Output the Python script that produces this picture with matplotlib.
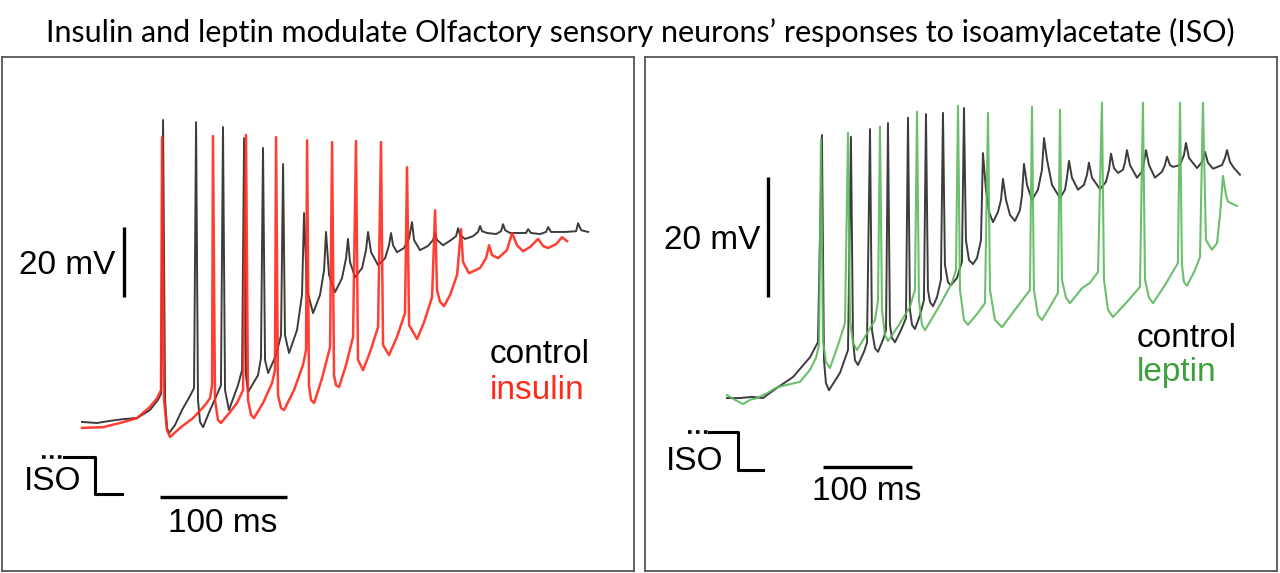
import matplotlib.pyplot as plt

# ---- left panel: control vs insulin (time in ms, membrane potential in mV)
ins_ctrl_t = [0, 11.8, 22.0, 32.3, 43.3, 53.5, 59.8, 62.2, 63.8, 65.4, 66.9, 68.5, 73.2, 78.7,
              85.0, 88.2, 89.8, 91.3, 92.9, 95.3, 100.8, 107.1, 109.4, 111.0, 112.6, 115.7, 122.8,
              126.0, 127.6, 129.1, 130.7, 138.6, 140.9, 142.5, 144.1, 146.5, 152.8, 156.7, 158.3,
              159.8, 163.0, 169.3, 173.2, 174.8, 177.2, 181.9, 187.4, 190.6, 192.1, 194.5, 199.2,
              204.7, 207.9, 209.4, 211.0, 215.0, 220.5, 223.6, 225.2, 227.6, 233.1, 238.6, 241.7,
              243.3, 244.9, 248.0, 253.5, 257.5, 259.8, 261.4, 266.1, 272.4, 276.4, 278.0, 279.5,
              284.3, 290.6, 294.5, 296.1, 297.6, 301.6, 307.9, 311.8, 313.4, 315.0, 318.9, 326.0,
              329.9, 331.5, 333.1, 337.0, 344.9, 349.6, 351.2, 353.5, 360.6, 365.4, 367.0, 369.3,
              380.3, 389.0, 390.6, 393.0, 398.4]
ins_ctrl_v = [-64.4, -64.7, -64.1, -63.6, -63.3, -61.0, -58.1, -56.4, 21.9, -58.1, -66.1, -67.6, -65.3, -61.0,
              -57.0, -54.7, 21.3, -58.1, -64.4, -65.9, -61.0, -55.9, -53.9, 19.9, -55.3, -61.0, -53.9,
              -49.6, 16.7, -51.0, -55.9, -51.0, -46.1, 13.9, -46.7, -50.4, -45.3, -39.6, 9.3,
              -39.6, -44.7, -38.1, -28.1, -4.7, -26.7, -33.3, -28.1, -21.0, -10.1, -22.4, -27.3,
              -23.3, -17.6, -12.1, -18.7, -23.0, -20.4, -15.3, -10.1, -15.9, -19.6, -17.6, -13.9,
              -10.4, -13.9, -15.9, -14.7, -11.9, -7.3, -12.4, -15.3, -14.1, -12.4, -10.4, -12.4,
              -13.9, -12.4, -11.3, -9.0, -11.0, -12.1, -11.3, -10.1, -8.4, -9.9, -10.4, -10.7,
              -9.9, -7.9, -9.6, -10.4, -10.4, -10.4, -9.3, -10.4, -10.7, -10.1, -8.7, -10.1,
              -10.1, -9.9, -7.6, -9.6, -10.1]

insulin_t = [0, 16.5, 29.9, 43.3, 53.5, 59.1, 62.2, 63.0, 64.6, 66.9, 69.3, 77.2, 87.4, 96.9,
             100.8, 102.4, 103.1, 104.7, 107.1, 109.4, 116.5, 122.0, 126.8, 129.1, 130.7, 133.1,
             135.4, 142.5, 149.6, 151.9, 152.8, 154.3, 156.7, 159.1, 166.9, 174.0, 176.4, 177.2,
             178.7, 180.3, 182.7, 189.0, 195.3, 196.9, 198.4, 200.0, 202.4, 207.9, 213.4, 215.7,
             217.3, 221.3, 226.8, 233.1, 235.4, 237.0, 241.7, 248.0, 254.3, 255.9, 257.5, 263.8,
             269.3, 275.6, 278.0, 279.5, 281.9, 285.0, 289.8, 295.3, 298.4, 300.0, 304.7, 313.4,
             318.1, 320.5, 322.8, 327.6, 334.6, 338.6, 342.5, 347.2, 352.8, 359.1, 363.0, 366.9,
             373.2, 377.9, 381.9]
insulin_v = [-66.1, -65.9, -64.7, -63.3, -60.1, -57.6, -55.3, 17.0, -58.1, -66.7, -68.7, -66.1, -63.3, -59.6,
             -57.6, -53.9, 17.3, -58.1, -63.9, -64.7, -61.6, -59.0, -55.3, 17.6, -58.1, -62.4,
             -63.3, -59.0, -53.3, -49.6, 17.0, -56.7, -60.4, -61.0, -55.3, -48.1, -43.9, 16.1,
             -53.9, -58.1, -59.0, -51.9, -43.0, 15.6, -51.0, -53.9, -54.4, -48.1, -40.1, 15.9,
             -46.7, -49.6, -44.4, -37.3, 15.6, -42.4, -45.3, -40.1, -33.3, 8.4, -36.7, -40.7,
             -35.9, -28.7, -3.9, -26.7, -30.1, -31.3, -28.1, -22.4, -9.3, -18.7, -21.9, -20.4,
             -17.6, -13.9, -16.7, -17.6, -15.3, -10.4, -13.9, -15.6, -14.4, -12.1, -14.1, -14.7,
             -13.6, -11.6, -12.7]

# ---- right panel: control vs leptin
lep_ctrl_t = [0, 14.6, 28.1, 40.4, 56.2, 74.2, 93.3, 102.2, 106.7, 109.0, 111.2, 114.6, 127.0, 136.0,
              139.3, 141.6, 143.8, 147.2, 153.9, 157.3, 160.7, 162.9, 166.3, 169.7, 175.3, 178.7,
              180.9, 183.1, 185.4, 188.8, 195.5, 201.1, 203.4, 205.6, 207.9, 211.2, 216.9, 221.3,
              223.6, 225.8, 228.1, 231.5, 236.0, 240.4, 242.7, 244.9, 248.3, 251.7, 258.4, 264.0,
              266.3, 268.5, 271.9, 276.4, 280.9, 285.4, 287.6, 291.0, 294.4, 298.9, 304.5, 307.9,
              310.1, 313.5, 318.0, 323.6, 329.2, 331.5, 333.7, 337.1, 342.7, 349.4, 353.9, 356.2,
              359.6, 365.2, 374.2, 379.8, 382.0, 384.3, 387.6, 394.4, 401.1, 404.5, 406.7, 410.1,
              419.1, 425.8, 429.2, 431.5, 434.8, 439.3, 444.9, 447.2, 449.4, 452.8, 460.7, 466.3,
              468.5, 470.8, 474.2, 480.9, 488.8, 492.1, 494.4, 497.8, 501.1, 509.0, 513.5, 515.7,
              519.1, 528.1, 533.7, 537.1, 540.4, 546.1, 556.2, 559.6, 561.8, 565.2, 569.7, 576.4]
lep_ctrl_v = [-65.0, -65.0, -64.8, -65.0, -63.3, -61.5, -58.2, -55.7, -21.2, -58.7, -62.5, -63.7, -60.8, -57.0,
              -21.5, -55.3, -58.7, -59.5, -57.3, -55.8, -20.2, -53.7, -56.7, -57.3, -55.3, -53.7,
              -19.2, -52.8, -55.0, -55.7, -53.7, -51.7, -18.3, -50.3, -52.8, -53.5, -51.2, -48.7,
              -17.7, -47.0, -49.0, -49.7, -48.2, -45.3, -17.5, -42.8, -45.7, -46.2, -45.0, -42.3,
              -16.7, -38.7, -42.0, -42.7, -41.7, -38.7, -24.2, -30.3, -34.0, -35.7, -34.0, -32.0,
              -28.5, -32.0, -34.5, -35.5, -33.7, -31.2, -26.0, -29.5, -32.0, -30.3, -27.0, -21.7,
              -25.3, -29.5, -31.7, -30.3, -28.3, -25.5, -28.3, -30.3, -29.5, -27.8, -25.8, -28.3,
              -30.2, -29.0, -27.0, -24.3, -26.7, -27.5, -27.0, -25.7, -23.7, -26.2, -28.3, -27.3,
              -25.7, -23.7, -26.2, -28.3, -27.3, -26.2, -24.8, -26.2, -26.5, -26.2, -24.5, -22.5,
              -25.0, -26.7, -25.7, -24.0, -25.8, -26.8, -26.2, -25.0, -23.7, -25.7, -26.7, -27.8]

leptin_t = [0, 9.0, 18.0, 25.8, 33.7, 44.9, 56.2, 67.4, 82.0, 93.3, 100.0, 103.4, 105.6, 107.9,
            111.2, 115.7, 124.7, 132.6, 136.0, 138.2, 141.6, 146.1, 156.2, 166.3, 169.7, 171.9,
            174.2, 177.5, 180.9, 193.3, 205.6, 211.2, 213.5, 215.7, 219.1, 222.5, 239.3, 252.8,
            257.3, 259.6, 261.8, 266.3, 270.8, 282.0, 289.9, 293.3, 295.5, 301.1, 309.0, 323.6,
            340.4, 342.7, 344.9, 349.4, 353.9, 362.9, 371.9, 374.2, 376.4, 380.9, 385.4, 398.9,
            407.9, 416.9, 421.3, 423.6, 428.1, 433.7, 449.4, 464.0, 467.4, 469.7, 474.2, 478.7,
            492.1, 506.7, 509.0, 511.2, 513.5, 516.9, 525.8, 531.5, 534.8, 538.2, 544.9, 550.6,
            554.0, 557.3, 560.7, 562.9, 573.0]
leptin_v = [-64.5, -65.3, -66.0, -65.3, -65.0, -64.2, -63.2, -62.8, -62.3, -60.3, -58.3, -56.2, -22.0, -55.3,
            -59.0, -60.0, -56.2, -52.5, -20.8, -52.0, -55.8, -57.0, -54.5, -52.0, -48.7, -19.8,
            -50.3, -54.5, -55.5, -52.8, -49.8, -47.0, -17.3, -48.7, -52.8, -53.7, -49.5, -45.8,
            -43.7, -16.3, -47.0, -52.0, -52.8, -50.8, -49.2, -17.5, -47.0, -52.0, -53.2, -50.3,
            -47.0, -16.5, -47.0, -51.2, -52.0, -49.8, -47.5, -17.0, -45.3, -48.3, -49.2, -46.7,
            -45.8, -44.0, -15.8, -45.3, -50.3, -51.5, -49.0, -46.5, -15.8, -45.3, -48.3, -49.2,
            -46.2, -42.5, -15.8, -42.8, -45.7, -46.3, -43.7, -41.5, -15.8, -38.7, -40.3, -39.2,
            -34.5, -28.0, -31.2, -32.3, -33.0]

BLACK = '#3c3c3c'
RED = '#ff2a1c'
GREEN = '#5cb85c'
TXT = 24

fig = plt.figure(figsize=(12.8, 5.73), dpi=100)
fig.text(0.5, 0.944, 'Insulin and leptin modulate Olfactory sensory neurons\u2019 responses to isoamylacetate (ISO)',
         ha='center', va='center', fontsize=22, family='Lato')


def panel(rect, xlim, ylim):
    ax = fig.add_axes(rect)
    ax.set_xlim(*xlim)
    ax.set_ylim(*ylim)
    ax.set_xticks([])
    ax.set_yticks([])
    for s in ax.spines.values():
        s.set_color('#555555')
        s.set_linewidth(1.3)
    return ax


def scalebars(ax, hbar, vbar, iso):
    # hbar: (t0, t1, v, label_t, label_v); vbar: (t, v0, v1, label_t, label_v)
    t0, t1, v, lt, lv = hbar
    ax.plot([t0, t1], [v, v], color='black', lw=2.4, solid_capstyle='butt')
    ax.text(lt, lv, '100 ms', ha='center', va='center', fontsize=TXT, family='Liberation Sans')
    t, v0, v1, lt, lv = vbar
    ax.plot([t, t], [v0, v1], color='black', lw=2.4, solid_capstyle='butt')
    ax.text(lt, lv, '20 mV', ha='right', va='center', fontsize=TXT, family='Liberation Sans')
    d0, d1, s1, vt, vb, s2, it, iv = iso
    ax.plot([d0, d1], [vt, vt], color='black', lw=2.6, ls=(0, (1, 1.2)))
    ax.plot([d1, s1, s1, s2], [vt, vt, vb, vb], color='black', lw=2.2)
    ax.text(it, iv, 'ISO', ha='center', va='center', fontsize=TXT, family='Liberation Sans')


# left panel
axL = panel([2 / 1280, 2 / 573, 632 / 1280, 514 / 573], (-63, 434.6), (-107, 39.9))
axL.plot(ins_ctrl_t, ins_ctrl_v, color=BLACK, lw=1.4)
axL.plot(insulin_t, insulin_v, color=RED, lw=1.8, alpha=0.9)
scalebars(axL, (61.4, 161.4, -85.9, 111, -93.5), (33.1, -8.7, -28.7, 26, -19.6),
          (-31.5, -14, 10.2, -74.4, -85.0, 31.5, -22.8, -81.5))
axL.text(321, -45, 'control', color='black', fontsize=TXT, family='Liberation Sans', va='center')
axL.text(321, -55.5, 'insulin', color=RED, fontsize=TXT, family='Liberation Sans', va='center')

# right panel
axR = panel([645 / 1280, 2 / 573, 632 / 1280, 514 / 573], (-92.1, 618), (-93.8, -8.2))
axR.plot(lep_ctrl_t, lep_ctrl_v, color=BLACK, lw=1.4)
axR.plot(leptin_t, leptin_v, color=GREEN, lw=1.5, alpha=0.9)
scalebars(axR, (107.9, 207.9, -76.5, 157.3, -80.5), (46.1, -28.2, -48.2, 37.1, -38.7),
          (-43.8, -20, 12.4, -70.7, -77.0, 40.4, -36, -75.5))
axR.text(460.7, -55, 'control', color='black', fontsize=TXT, family='Liberation Sans', va='center')
axR.text(460.7, -60.8, 'leptin', color='#3c9f3c', fontsize=TXT, family='Liberation Sans', va='center')

fig.savefig('out.png', dpi=100)
